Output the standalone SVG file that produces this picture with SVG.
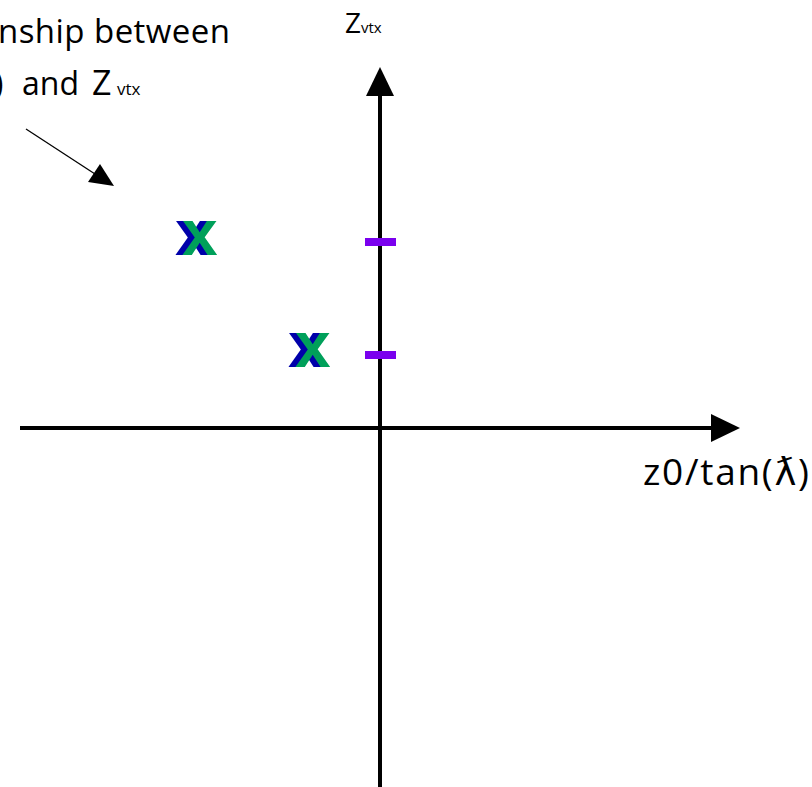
<svg xmlns="http://www.w3.org/2000/svg" width="812" height="787" viewBox="0 0 812 787">
  <defs>
    <style>
      .lbl { font-family: "Open Sans", "DejaVu Sans", sans-serif; fill: #000; }
      .axis { stroke: #000; stroke-width: 4; fill: none; }
      .thin { stroke: #000; stroke-width: 1.3; fill: none; }
      .tick { fill: #7a00ee; }
      .mk { font-family: "Liberation Sans", Arial, sans-serif; font-weight: bold; font-size: 64px; }
      .mb { fill: #0000aa; }
      .mg { fill: #00a05a; }
    </style>
  </defs>
  <rect width="812" height="787" fill="#fff"/>
  <g id="connectors">
    <line class="axis" x1="380" y1="787" x2="380" y2="92"/>
    <polygon points="380,67 366,96 394,96" fill="#000"/>
    <line class="axis" x1="20" y1="428" x2="715" y2="428"/>
    <polygon points="740,428 711,414 711,442" fill="#000"/>
    <line class="thin" x1="26" y1="129" x2="95" y2="174"/>
    <polygon points="114,186 88,182 100,164" fill="#000"/>
  </g>
  <g id="title">
    <text class="lbl" x="-2" y="43" font-size="33" textLength="232" lengthAdjust="spacing">nship between</text>
    <text class="lbl" y="95" font-size="32"><tspan x="-6">)</tspan><tspan x="22">and</tspan><tspan x="92" font-size="34">Z</tspan><tspan x="117" font-size="17">vtx</tspan></text>
  </g>
  <g id="y-label">
    <text class="lbl" x="345" y="33" font-size="28">Z<tspan font-size="15">vtx</tspan></text>
  </g>
  <g id="x-label">
    <text class="lbl" x="643" y="485" font-size="37" textLength="166" lengthAdjust="spacing">z0/tan(ƛ)</text>
  </g>
  <g id="tick1"><rect class="tick" x="365" y="238" width="31" height="8"/></g>
  <g id="tick2"><rect class="tick" x="365" y="351" width="31" height="8"/></g>
  <g id="marker1">
    <text class="mk mb" x="175" y="255">x</text>
    <text class="mk mg" x="182" y="255">x</text>
  </g>
  <g id="marker2">
    <text class="mk mb" x="288" y="367">x</text>
    <text class="mk mg" x="295" y="367">x</text>
  </g>
</svg>
